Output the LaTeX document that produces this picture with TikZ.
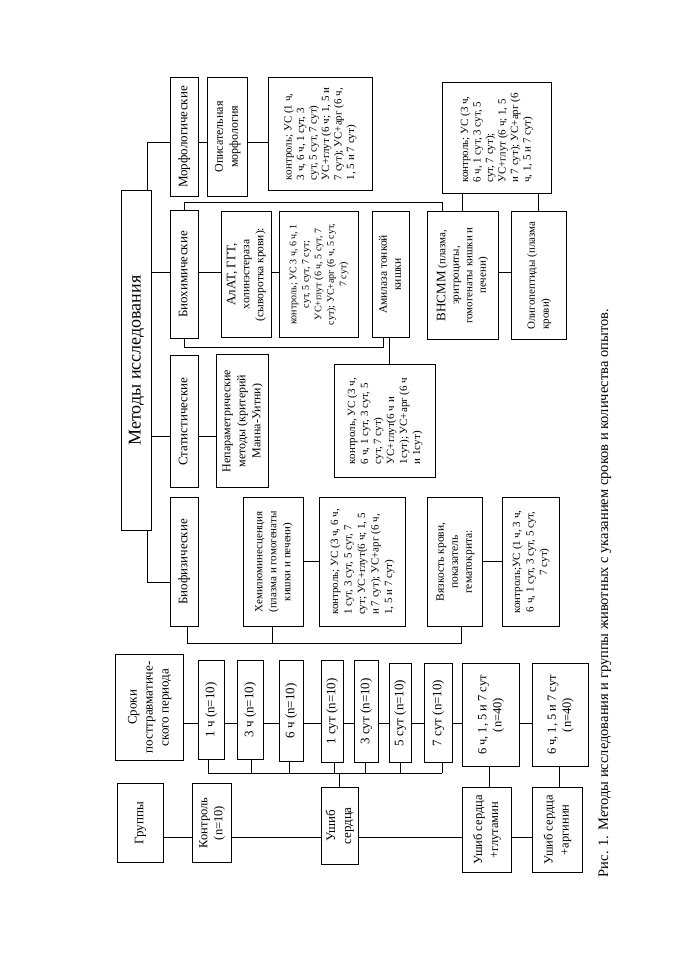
\documentclass[tikz,border=0pt]{standalone}
\usepackage{fontspec}
\setmainfont{Liberation Serif}
\usepackage{graphicx}
\tikzset{
  box/.style={draw, line width=0.9pt, inner sep=0pt, anchor=north west, align=center},
  ln/.style={line width=0.9pt}
}
\newcommand\RT[4]{\rotatebox{90}{\fontsize{#1}{#2}\selectfont\begin{tabular}{@{}#3@{}}#4\end{tabular}}}
\newcommand\B[6]{\node[box,minimum width=#4pt,minimum height=#5pt] (#1) at (#2,#3) {#6};}
\begin{document}
\begin{tikzpicture}[x=1pt,y=-1pt]
\fill[white] (0,0) rectangle (678,960);
\useasboundingbox (0,0) rectangle (678,960);
% methods
\B{met}{121}{190}{30}{340}{\RT{18}{21}{c}{Методы исследования}}
\B{morph}{170}{77}{28}{119}{\RT{13}{15}{c}{Морфологические}}
\B{biochem}{170}{210}{28}{128}{\RT{13}{15}{c}{Биохимические}}
\B{stat}{170}{355}{28}{132}{\RT{13}{15}{c}{Статистические}}
\B{biophys}{170}{497}{28}{129}{\RT{13}{15}{c}{Биофизические}}
\B{opis}{207}{77}{40}{119}{\RT{12}{15}{c}{Описательная\\морфология}}
\B{morphK}{268}{77}{104}{113}{\RT{11}{12.5}{l}{контроль; УС (1 ч,\\3 ч, 6 ч, 1 сут, 3\\сут, 5 сут, 7 сут)\\УС+глут (6 ч; 1, 5 и\\7 сут); УС+арг (6 ч,\\1, 5 и 7 сут)}}
\B{alat}{221}{211}{50}{126}{\RT{11.5}{14}{c}{{\fontsize{13}{15}\selectfont АлАТ, ГГТ,}\\холинэстераза\\(сыворотка крови):}}
\B{biochK}{279}{211}{79}{126}{\RT{10}{12.5}{c}{контроль; УС 3 ч, 6 ч, 1\\сут, 5 сут, 7 сут;\\УС+глут (6 ч, 5 сут, 7\\сут); УС+арг (6 ч, 5 сут,\\7 сут)}}
\B{amyl}{372}{211}{37}{126}{\RT{11.5}{14}{c}{Амилаза тонкой\\кишки}}
\B{vnsmm}{427}{211}{71}{128}{\RT{11}{13.5}{c}{{\fontsize{13}{15}\selectfont ВНСММ} (плазма,\\эритроциты,\\гомогенаты кишки и\\печени)}}
\B{oligo}{511}{211}{55}{128}{\RT{11}{14}{l}{Олигопептиды (плазма\\крови)}}
\B{vnsmmK}{442}{82}{109}{111}{\RT{11}{12.5}{l}{контроль; УС (3 ч,\\6 ч, 1 сут, 3 сут, 5\\сут, 7 сут);\\УС+глут (6 ч; 1, 5\\и 7 сут); УС+арг (6\\ч, 1, 5 и 7 сут)}}
\B{amylK}{334}{364}{101}{113}{\RT{11}{13}{l}{контроль, УС (3 ч,\\6 ч, 1 сут, 3 сут, 5\\сут, 7 сут)\\УС+глут(6 ч и\\1сут); УС+арг (6 ч\\и 1сут)}}
\B{nonpar}{216}{354}{52}{133}{\RT{12}{15}{c}{Непараметрические\\методы (критерий\\Манна-Уитни)}}
\B{hemi}{243}{497}{60}{129}{\RT{11}{14}{c}{Хемилюминесценция\\(плазма и гомогенаты\\кишки и печени)}}
\B{hemiK}{319}{497}{86}{129}{\RT{11}{13.5}{l}{контроль; УС (3 ч, 6 ч,\\1 сут, 3 сут, 5 сут, 7\\сут; УС+глут(6 ч; 1, 5\\и 7 сут); УС+арг (6 ч,\\1, 5 и 7 сут)}}
\B{vyaz}{427}{497}{55}{129}{\RT{11.5}{14}{c}{Вязкость крови,\\показатель\\гематокрита:}}
\B{vyazK}{502}{497}{57}{129}{\RT{11}{13.5}{c}{контроль;УС (1 ч, 3 ч,\\6 ч, 1 сут, 3 сут, 5 сут,\\7 сут)}}
% times
\B{sroki}{115}{654}{68}{106}{\RT{13}{16}{c}{Сроки\\посттравматиче-\\ского периода}}
\B{t1}{198}{660}{26}{99}{\RT{13}{15}{c}{1 ч (n=10)}}
\B{t3}{237}{660}{26}{99}{\RT{13}{15}{c}{3 ч (n=10)}}
\B{t6}{279}{660}{24}{101}{\RT{13}{15}{c}{6 ч (n=10)}}
\B{t1s}{321}{660}{22}{102}{\RT{13}{15}{c}{1 сут (n=10)}}
\B{t3s}{354}{660}{24}{102}{\RT{13}{15}{c}{3 сут (n=10)}}
\B{t5s}{389}{663}{22}{99}{\RT{13}{15}{c}{5 сут (n=10)}}
\B{t7s}{424}{663}{28}{99}{\RT{13}{15}{c}{7 сут (n=10)}}
\B{n40a}{462}{663}{57}{103}{\RT{12.5}{15}{c}{6 ч, 1, 5 и 7 сут\\(n=40)}}
\B{n40b}{532}{663}{56}{103}{\RT{12.5}{15}{c}{6 ч, 1, 5 и 7 сут\\(n=40)}}
% groups
\B{groups}{117}{783}{46}{79}{\RT{13}{15}{c}{Группы}}
\B{ctrl}{192}{783}{39}{79}{\RT{12.5}{15}{c}{Контроль\\(n=10)}}
\B{ush}{321}{787}{37}{77}{\RT{13}{16}{c}{Ушиб\\сердца}}
\B{glut}{462}{787}{49}{85}{\RT{12.5}{16}{c}{Ушиб сердца\\+глутамин}}
\B{arg}{532}{787}{50}{85}{\RT{12.5}{16}{c}{Ушиб сердца\\+аргинин}}
% caption
\node[rotate=90, inner sep=0pt, font=\fontsize{14.5}{16}\selectfont] (cap) at (605,593) {Рис. 1. Методы исследования и группы животных с указанием сроков и количества опытов.};
% connectors: methods
\draw[ln] (met.north -| 147,0) |- (morph.west |- 0,142);
\draw[ln] (met.east |- 0,272) -- (biochem.west |- 0,272);
\draw[ln] (met.east |- 0,436) -- (stat.west |- 0,436);
\draw[ln] (met.south -| 147,0) |- (biophys.west |- 0,582);
\draw[ln] (morph.east |- 0,142) -- (opis.west |- 0,142);
\draw[ln] (opis.east |- 0,142) -- (morphK.west |- 0,142);
\draw[ln] (biochem.north -| 184,0) |- (442,202) -- (vnsmm.north -| 442,0);
\draw[ln] (biochem.east |- 0,272) -- (alat.west |- 0,272);
\draw[ln] (alat.east |- 0,272) -- (biochK.west |- 0,272);
\draw[ln] (biochem.south -| 184,0) |- (383,347) -- (amyl.south -| 383,0);
\draw[ln] (amyl.south -| 389,0) -- (amylK.north -| 389,0);
\draw[ln] (vnsmm.east |- 0,272) -- (oligo.west |- 0,272);
\draw[ln] (vnsmmK.south -| 462,0) -- (vnsmm.north -| 462,0);
\draw[ln] (vnsmmK.south -| 538,0) -- (oligo.north -| 538,0);
\draw[ln] (stat.east |- 0,436) -- (nonpar.west |- 0,436);
\draw[ln] (biophys.south -| 187,0) |- (461,643) -- (vyaz.south -| 461,0);
\draw[ln] (hemi.south -| 272,0) -- (272,643);
\draw[ln] (hemi.east |- 0,561) -- (hemiK.west |- 0,561);
\draw[ln] (vyaz.east |- 0,561) -- (vyazK.west |- 0,561);
% connectors: times
\foreach \a/\b in {sroki/t1, t1/t3, t3/t6, t6/t1s, t1s/t3s, t3s/t5s, t5s/t7s, t7s/n40a, n40a/n40b}
  \draw[ln] (\a.east |- 0,723) -- (\b.west |- 0,723);
\draw[ln] (208,773) -- (442,773);
\foreach \n/\x in {t1/208, t3/251, t6/289, t1s/334, t3s/365, t5s/400, t7s/442}
  \draw[ln] (\n.south -| \x,0) -- (\x,773);
\draw[ln] (ush.north -| 339,0) -- (339,773);
% connectors: groups
\foreach \a/\b in {groups/ctrl, ctrl/ush, ush/glut, glut/arg}
  \draw[ln] (\a.east |- 0,837) -- (\b.west |- 0,837);
\draw[ln] (n40a.south -| 489,0) -- (glut.north -| 489,0);
\draw[ln] (n40b.south -| 559,0) -- (arg.north -| 559,0);
\end{tikzpicture}
\end{document}
